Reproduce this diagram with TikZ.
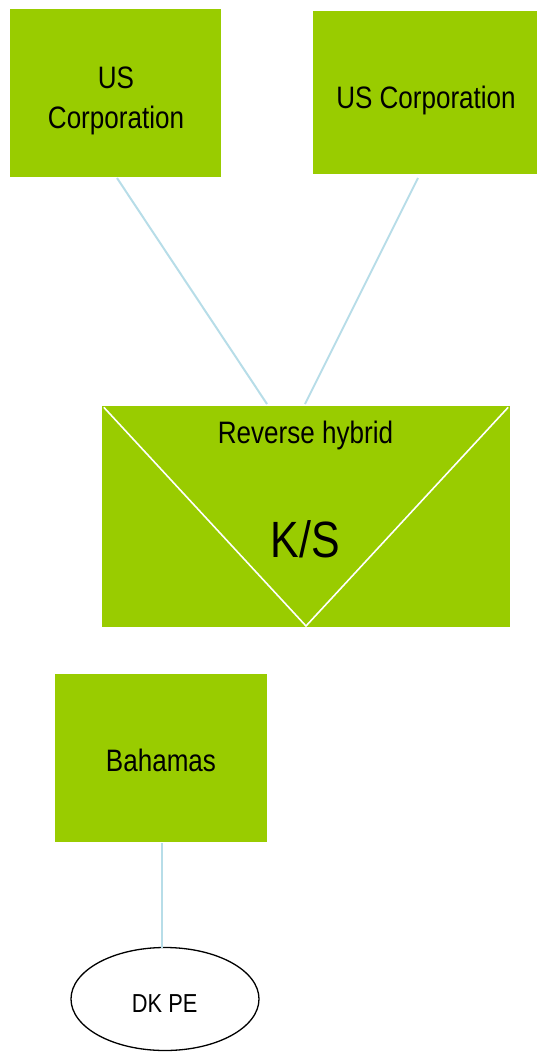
\documentclass[tikz,border=0pt]{standalone}
\usepackage{fontspec}
\setmainfont{Liberation Sans}[FakeStretch=0.84]
\usetikzlibrary{shapes.geometric}
\definecolor{boxgreen}{HTML}{99CC00}
\definecolor{linkblue}{RGB}{183,221,232}
\tikzset{
  greenbox/.style={fill=boxgreen, draw=none, inner sep=0pt},
  lbl/.style={inner sep=0pt, anchor=base, text=black},
  link/.style={draw=linkblue, line width=2pt},
  divider/.style={draw=white, line width=1.6pt},
}
\begin{document}
\begin{tikzpicture}[x=1pt, y=-1pt]
\useasboundingbox (0,0) rectangle (538,1052);
% boxes
\node[greenbox, minimum width=211pt, minimum height=168pt] (c1) at (115.5,93) {};
\node[greenbox, minimum width=224pt, minimum height=163pt] (c2) at (425,92.5) {};
\node[greenbox, minimum width=408pt, minimum height=221pt] (ks) at (306,516) {};
\node[greenbox, minimum width=212pt, minimum height=168pt] (bah) at (161,758) {};
\node[draw=black, line width=1.3pt, ellipse, inner sep=0pt, minimum width=188pt, minimum height=103pt] (pe) at (165,999) {};
% texts
\node[lbl, align=center, font=\fontsize{31}{40}\selectfont] (t1) at (116,128) {US\\Corporation};
\node[lbl, font=\fontsize{31}{38}\selectfont] (t2) at (426,108.5) {US Corporation};
\node[lbl, font=\fontsize{31}{38}\selectfont] (t3) at (305.5,443) {Reverse hybrid};
\node[lbl, font=\fontsize{51}{60}\selectfont] (t4) at (305.5,557) {K/S};
\node[lbl, font=\fontsize{31}{38}\selectfont] (t5) at (161,771.5) {Bahamas};
\node[lbl, font=\fontsize{26}{32}\selectfont] (t6) at (164.7,1012) {DK PE};
% divider lines in K/S box
\coordinate (ksapex) at (306,626);
\draw[divider] ([shift={(2pt,-2pt)}]ks.north west) -- (ksapex) -- ([shift={(-2pt,-2pt)}]ks.north east);
% connectors
\coordinate (c1foot) at (117,178);
\coordinate (c2foot) at (418,178);
\coordinate (ksin1) at (267,404);
\coordinate (ksin2) at (305,404);
\coordinate (bahfoot) at (162,843);
\coordinate (pehead) at (162,947.5);
\draw[link] (c1foot) -- (ksin1);
\draw[link] (c2foot) -- (ksin2);
\draw[link] (bahfoot) -- (pehead);
\end{tikzpicture}
\end{document}
